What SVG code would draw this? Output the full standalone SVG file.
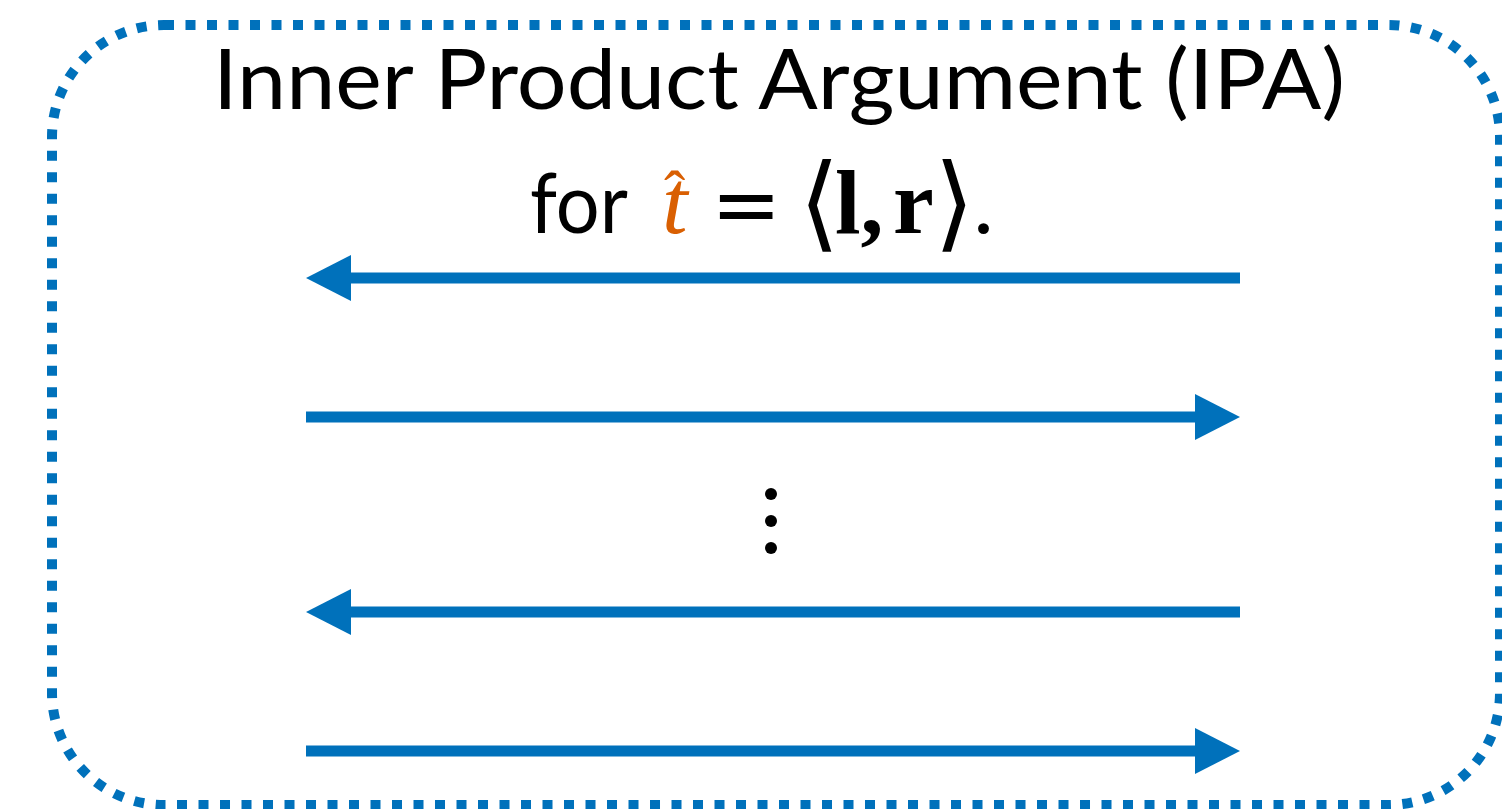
<svg xmlns="http://www.w3.org/2000/svg" width="1502" height="809" viewBox="0 0 1502 809">
<style>
.t{font-family:Lato,"Noto Sans",sans-serif;font-size:84px;fill:#000}
.m{font-family:"Liberation Serif","DejaVu Serif",serif;font-size:92px;fill:#000}
.br{font-family:"DejaVu Serif",serif;font-size:104px}
.eq{font-family:"DejaVu Sans",sans-serif;font-size:84px}
.or{fill:#D95F02}
.ln{stroke:#0071BB;stroke-width:11;fill:none}
</style>
<defs>
<marker id="ah" markerUnits="userSpaceOnUse" markerWidth="46" markerHeight="46" viewBox="0 0 46 46" refX="0" refY="23" orient="auto">
<path d="M0,0 L45,23 L0,46 z" fill="#0071BB"/>
</marker>
</defs>
<g id="frame">
<rect x="52" y="25" width="1448" height="780" rx="112" ry="112" fill="none" stroke="#0071BB" stroke-width="10" stroke-dasharray="10 11.5"/>
</g>
<g id="title">
<text class="t" x="213" y="109" textLength="1132" lengthAdjust="spacingAndGlyphs">Inner Product Argument (IPA)</text>
<text class="m" y="233"><tspan class="t" x="530" textLength="98" lengthAdjust="spacingAndGlyphs">for</tspan><tspan class="or" x="662" font-style="italic">t</tspan><tspan class="or" x="664" y="215" style="font-size:64px">ˆ</tspan><tspan class="eq" x="711" y="233">=</tspan><tspan class="br" x="799" y="238">⟨</tspan><tspan x="835" y="233" font-weight="bold">l,</tspan><tspan x="893" font-weight="bold">r</tspan><tspan class="br" x="934" y="238">⟩</tspan><tspan x="972" y="233">.</tspan></text>
</g>
<g id="connectors">
<line class="ln" x1="1240" y1="278" x2="351" y2="278" marker-end="url(#ah)"/>
<line class="ln" x1="306" y1="417" x2="1195" y2="417" marker-end="url(#ah)"/>
<line class="ln" x1="1240" y1="612" x2="351" y2="612" marker-end="url(#ah)"/>
<line class="ln" x1="306" y1="751" x2="1195" y2="751" marker-end="url(#ah)"/>
</g>
<g id="vdots" fill="#000">
<circle cx="771" cy="494" r="6"/>
<circle cx="771" cy="521" r="6"/>
<circle cx="771" cy="548" r="6"/>
</g>
</svg>
